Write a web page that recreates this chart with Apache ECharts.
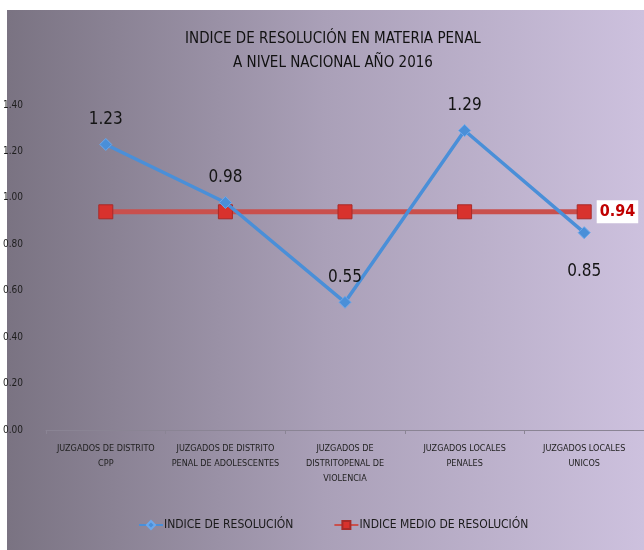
<!DOCTYPE html>
<html>
<head>
<meta charset="utf-8">
<script src="https://cdn.jsdelivr.net/npm/echarts@6/dist/echarts.min.js"></script>
<style>
  html, body { margin: 0; padding: 0; background: #fff; }
  #chart { width: 644px; height: 550px; }
</style>
</head>
<body>
<div id="chart"></div>
<script>
// chart data
var categories = [
  'JUZGADOS DE DISTRITO\nCPP',
  'JUZGADOS DE DISTRITO\nPENAL DE ADOLESCENTES',
  'JUZGADOS DE\nDISTRITOPENAL DE\nVIOLENCIA',
  'JUZGADOS LOCALES\nPENALES',
  'JUZGADOS LOCALES\nUNICOS'
]
var indiceResolucion = [1.23, 0.98, 0.55, 1.29, 0.85]
var indiceMedio = [0.94, 0.94, 0.94, 0.94, 0.94]
var seriesNames = ['INDICE DE RESOLUCIÓN', 'INDICE MEDIO DE RESOLUCIÓN']

var font = '"Liberation Sans Narrow", "DejaVu Sans Condensed", "Liberation Sans", sans-serif'
var last = categories.length - 1

var chart = echarts.init(document.getElementById('chart'))
chart.setOption({
  animation: false,
  textStyle: { fontFamily: font },
  graphic: [{
    type: 'rect',
    z: -10,
    silent: true,
    shape: { x: 7, y: 10, width: 637, height: 540 },
    style: {
      fill: new echarts.graphic.LinearGradient(0, 0, 1, 0, [
        { offset: 0, color: '#7a7382' },
        { offset: 0.5, color: '#aaa0b8' },
        { offset: 1, color: '#cdc1de' }
      ])
    }
  }],
  title: {
    text: 'INDICE DE RESOLUCIÓN EN MATERIA PENAL\nA NIVEL NACIONAL AÑO 2016',
    left: 328,
    textAlign: 'center',
    top: 22,
    textStyle: {
      fontFamily: font,
      fontSize: 15,
      fontWeight: 'normal',
      color: '#111111',
      lineHeight: 24
    }
  },
  legend: {
    data: seriesNames,
    bottom: 14,
    left: 133,
    itemGap: 40,
    itemWidth: 24,
    itemHeight: 10,
    textStyle: { fontFamily: font, fontSize: 12, color: '#1a1a1a', padding: [0, 0, 0, -4] }
  },
  grid: {
    left: 45,
    top: 105,
    width: 605,
    height: 325
  },
  xAxis: {
    type: 'category',
    data: categories,
    boundaryGap: true,
    axisLine: { lineStyle: { color: '#8a8494', width: 1 } },
    axisTick: { show: true, length: 4, lineStyle: { color: '#8a8494' } },
    axisLabel: {
      interval: 0,
      fontFamily: font,
      fontSize: 9,
      lineHeight: 15,
      color: '#222222',
      margin: 11
    }
  },
  yAxis: {
    type: 'value',
    min: 0,
    max: 1.4,
    interval: 0.2,
    axisLine: { show: false },
    axisTick: { show: false },
    splitLine: { show: false },
    axisLabel: {
      align: 'left',
      margin: 43,
      fontFamily: font,
      fontSize: 10,
      color: '#1e1e1e',
      formatter: function (v) { return v.toFixed(2) }
    }
  },
  series: [
    {
      name: seriesNames[0],
      type: 'line',
      z: 3,
      data: indiceResolucion.map(function (v, i) {
        return i === last ? { value: v, label: { position: 'bottom', distance: 24 } } : v
      }),
      symbol: 'diamond',
      symbolSize: 12,
      lineStyle: { color: '#4a8fd8', width: 3.5 },
      itemStyle: { color: '#4a8fd8', borderColor: '#6aa8ec', borderWidth: 1 },
      label: {
        show: true,
        position: 'top',
        distance: 10,
        fontFamily: font,
        fontSize: 17,
        color: '#141414',
        formatter: function (p) { return p.value.toFixed(2) }
      }
    },
    {
      name: seriesNames[1],
      type: 'line',
      z: 2,
      data: indiceMedio.map(function (v, i) {
        return i === last ? {
          value: v,
          label: {
            show: true,
            position: 'right',
            distance: 5,
            fontFamily: font,
            fontSize: 16,
            fontWeight: 'bold',
            color: '#c00000',
            backgroundColor: '#ffffff',
            padding: [4, 3, 3, 3],
            formatter: function (p) { return p.value.toFixed(2) }
          }
        } : v
      }),
      symbol: 'rect',
      symbolSize: 14,
      lineStyle: { color: '#c9504d', width: 5 },
      itemStyle: { color: '#d8322d', borderColor: '#a82a28', borderWidth: 1 },
      label: { show: false }
    }
  ]
})
</script>
</body>
</html>
